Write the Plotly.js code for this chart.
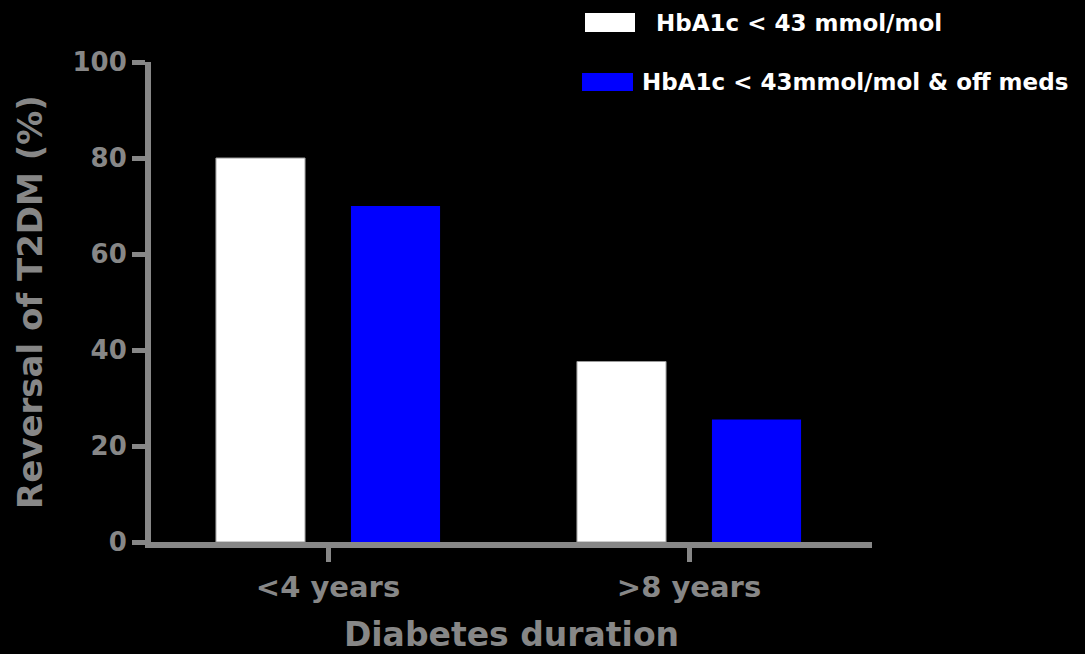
<!DOCTYPE html>
<html>
<head>
<meta charset="utf-8">
<script src="https://cdn.plot.ly/plotly-3.0.1.min.js"></script>
<style>
  html, body { margin: 0; padding: 0; background: #000; }
  #chart { width: 1085px; height: 654px; }
</style>
</head>
<body>
<div id="chart"></div>
<script>
// ---- data ----
const categories = ['<4 years', '>8 years'];
const seriesNames = ['HbA1c < 43 mmol/mol', 'HbA1c < 43mmol/mol & off meds'];
const hba1cBelow43 = [80, 37.6];
const hba1cBelow43OffMeds = [70, 25.5];
const yTickValues = [0, 20, 40, 60, 80, 100];
const xTitle = 'Diabetes duration';
const yTitle = 'Reversal of T2DM (%)';

// ---- styling ----
const GRAY = '#878787';
const FONT = 'DejaVu Sans, Verdana, sans-serif';
const W = 1085, H = 654;
const M = { l: 151, r: 213, t: 62, b: 112 };
const PW = W - M.l - M.r, PH = H - M.t - M.b;
const px = x => (x - M.l) / PW;
const py = y => 1 - (y - M.t) / PH;

const traces = [
  {
    type: 'bar', name: seriesNames[0], x: categories, y: hba1cBelow43,
    marker: { color: '#ffffff', line: { color: '#9a9a9a', width: 1 } },
    hoverinfo: 'skip'
  },
  {
    type: 'bar', name: seriesNames[1], x: categories, y: hba1cBelow43OffMeds,
    marker: { color: '#0000ff', line: { width: 0 } },
    hoverinfo: 'skip'
  }
];

const legendRows = [
  { sw: [585, 13, 635, 32], color: '#ffffff', tx: 654, ty: 23 },
  { sw: [582, 73, 633, 91], color: '#0000ff', tx: 640, ty: 82 }
];

const shapes = legendRows.map(r => ({
  type: 'rect', xref: 'paper', yref: 'paper',
  x0: px(r.sw[0]), x1: px(r.sw[2]), y0: py(r.sw[3]), y1: py(r.sw[1]),
  fillcolor: r.color, line: { width: 0 }
}));
const annotations = legendRows.map((r, i) => ({
  xref: 'paper', yref: 'paper', x: px(r.tx), y: py(r.ty),
  xanchor: 'left', yanchor: 'middle', showarrow: false,
  text: seriesNames[i],
  font: { family: FONT, size: 23, color: '#ffffff', weight: 'bold' }
}));

const layout = {
  width: W, height: H,
  paper_bgcolor: '#000000', plot_bgcolor: '#000000',
  margin: M,
  showlegend: false,
  barmode: 'group',
  bargap: 0.252,
  bargroupgap: 0.34,
  xaxis: {
    type: 'category',
    range: [-0.4903, 1.5069],
    showline: true, linecolor: GRAY, linewidth: 6,
    ticks: 'outside', ticklen: 14, tickwidth: 5, tickcolor: GRAY,
    showgrid: false, zeroline: false,
    tickfont: { family: FONT, size: 29, color: GRAY, weight: 'bold' },
    title: { text: xTitle, standoff: 22,
             font: { family: FONT, size: 33, color: GRAY, weight: 'bold' } },
    automargin: false, fixedrange: true
  },
  yaxis: {
    range: [0, 100],
    tickvals: yTickValues,
    showline: true, linecolor: GRAY, linewidth: 6,
    ticks: 'outside', ticklen: 13, tickwidth: 5, tickcolor: GRAY,
    showgrid: false, zeroline: false,
    tickfont: { family: FONT, size: 26, color: GRAY, weight: 'bold' },
    title: { text: yTitle, standoff: 22,
             font: { family: FONT, size: 34, color: GRAY, weight: 'bold' } },
    automargin: false, fixedrange: true
  },
  shapes: shapes,
  annotations: annotations
};

Plotly.newPlot('chart', traces, layout, { displayModeBar: false, staticPlot: true });
</script>
</body>
</html>
